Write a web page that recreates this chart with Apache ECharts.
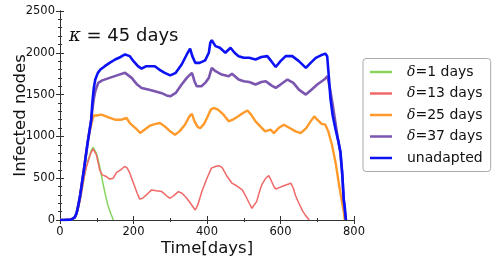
<!DOCTYPE html>
<html><head><meta charset="utf-8">
<script src="https://cdn.jsdelivr.net/npm/echarts@6/dist/echarts.min.js"></script>
<style>html,body{margin:0;padding:0;background:#fff}#c{width:498px;height:264px}</style>
</head><body><div id="c"></div>
<script>
const seriesNames = ['δ=1 days','δ=13 days','δ=25 days','δ=37 days','unadapted'];
const xTicks = [0,200,400,600,800];
const yTicks = [0,500,1000,1500,2000,2500];

const greenDays = [0,10,30,40,45,50,55,60,66,72,78,84,90,94,99,104,108,115,122,130,138,145];
const greenVals = [0,0,5,25,60,140,240,360,520,640,740,820,870,880,800,720,640,480,330,180,80,0];

const redDays = [0,10,30,40,45,50,55,60,66,72,78,84,90,94,99,104,108,115,126,135,145,154,165,176,183,190,200,210,217,225,235,249,262,277,290,300,312,322,332,345,355,363,368,375,386,400,412,423,432,441,455,468,480,496,505,515,522,527,535,545,550,560,568,575,582,587,598,609,628,635,641,650,660,669,678];
const redVals = [0,0,5,25,60,140,240,360,520,640,720,800,850,840,780,680,600,540,520,490,500,570,600,640,620,560,440,320,250,260,300,360,350,340,290,260,300,340,320,260,200,150,120,180,340,500,620,640,650,630,520,440,410,360,290,200,140,120,220,370,430,500,530,470,400,370,390,410,440,380,290,200,110,50,0];

const orangeDays = [0,10,30,40,45,50,55,60,65,70,75,80,84,88,92,100,113,130,150,167,181,190,200,210,218,230,245,260,272,285,300,313,325,340,352,359,366,375,382,392,400,410,418,430,445,459,470,485,498,510,520,532,545,558,573,582,595,609,625,641,655,670,682,692,700,712,722,730,740,751,760,766,772,775];
const orangeVals = [0,0,5,30,80,180,300,450,600,760,920,1040,1120,1200,1250,1250,1260,1230,1200,1200,1220,1160,1120,1080,1040,1080,1130,1150,1160,1120,1060,1020,1060,1140,1240,1270,1180,1110,1100,1150,1220,1320,1340,1320,1260,1180,1200,1240,1280,1310,1260,1180,1120,1060,1080,1040,1100,1140,1100,1060,1040,1100,1180,1240,1200,1150,1140,1060,900,660,400,250,100,0];

const purpleDays = [0,10,30,40,45,50,55,60,65,70,75,80,85,88,92,96,104,115,135,155,177,182,195,210,222,240,258,275,290,300,315,331,345,359,366,372,385,395,405,413,423,440,459,468,486,500,515,532,548,560,575,587,600,619,635,650,669,685,700,719,728,735,742,750,757,763,768,772,775,778];
const purpleVals = [0,0,5,30,80,180,300,450,600,760,920,1060,1200,1320,1450,1540,1640,1670,1700,1730,1760,1780,1700,1620,1580,1560,1540,1520,1490,1480,1520,1620,1700,1760,1660,1600,1600,1640,1700,1820,1780,1740,1720,1750,1680,1660,1650,1620,1650,1660,1610,1580,1620,1680,1640,1560,1500,1560,1620,1680,1720,1560,1380,1150,950,800,540,240,100,0];

const blueDays = [0,10,30,40,45,50,55,60,65,70,75,80,85,88,92,96,103,110,122,135,150,165,177,182,190,200,212,222,235,248,258,270,285,300,315,331,345,354,360,368,380,395,405,409,413,423,435,450,464,475,486,500,515,532,548,564,575,587,600,614,632,650,669,682,696,710,722,727,730,736,742,750,757,763,768,772,775,778];
const blueVals = [0,0,5,30,80,180,300,450,600,760,920,1060,1200,1400,1580,1680,1760,1800,1840,1880,1920,1950,1980,2000,1960,1900,1840,1810,1840,1840,1840,1800,1760,1730,1760,1860,1980,2050,1960,1880,1880,1910,2000,2120,2150,2080,2060,2000,2060,2000,1960,1940,1940,1920,1950,1960,1900,1830,1900,1960,1960,1900,1820,1880,1940,1970,1990,1960,1800,1450,1250,1080,950,820,560,250,150,0];

const colors = ['#86d35e','#f06868','#ff9a2a','#7b55b0','#0c12f5'];
const widths = [1.5,1.5,2.4,2.6,2.6];
const dayLists = [greenDays, redDays, orangeDays, purpleDays, blueDays];
const valLists = [greenVals, redVals, orangeVals, purpleVals, blueVals];

const chart = echarts.init(document.getElementById('c'), null, {renderer:'canvas'});
const FONT = 'DejaVu Sans';
const axisCommon = {
  type:'value', min:0,
  axisLine:{show:true, lineStyle:{color:'#333', width:1}},
  splitLine:{show:false},
  axisTick:{show:true, inside:true, length:4, lineStyle:{color:'#333'}},
  minorTick:{show:true, length:2, lineStyle:{color:'#333'}}
};
const series = seriesNames.map((n,i)=>({
  name:n, type:'line', showSymbol:false, symbol:'none', animation:false,
  lineStyle:{color:colors[i], width:widths[i]}, itemStyle:{color:colors[i]},
  data: dayLists[i].map((d,j)=>[d, valLists[i][j]]), z: 2+i
}));
chart.setOption({
  animation:false,
  grid:{left:60, right:144, top:11, bottom:44, containLabel:false, outerBoundsMode:'none'},
  xAxis:[
    Object.assign({}, axisCommon, {max:800, interval:200, position:'bottom',
      minorTick:{show:true, splitNumber:2, length:2, lineStyle:{color:'#333'}},
      axisLabel:{show:true, margin:6, color:'#111', fontFamily:FONT, fontSize:11.5, formatter:v=>xTicks.includes(v)?String(v):''},
      name:'Time[days]', nameLocation:'middle', nameGap:20, nameMoveOverlap:false,
      nameTextStyle:{fontFamily:FONT, fontSize:16.5, color:'#111', verticalAlign:'top'}}),
    Object.assign({}, axisCommon, {max:800, interval:200, position:'top',
      minorTick:{show:true, splitNumber:2, length:2, lineStyle:{color:'#333'}},
      axisLabel:{show:false}})
  ],
  yAxis:[
    Object.assign({}, axisCommon, {max:2500, interval:500, position:'left',
      minorTick:{show:true, splitNumber:5, length:2, lineStyle:{color:'#333'}},
      axisLabel:{show:true, margin:5, color:'#111', fontFamily:FONT, fontSize:11.5, formatter:v=>yTicks.includes(v)?String(v):''},
      name:'Infected nodes', nameLocation:'middle', nameGap:31, nameMoveOverlap:false,
      nameTextStyle:{fontFamily:FONT, fontSize:16.5, color:'#111'}}),
    Object.assign({}, axisCommon, {max:2500, interval:500, position:'right',
      minorTick:{show:true, splitNumber:5, length:2, lineStyle:{color:'#333'}},
      axisLabel:{show:false}})
  ],
  legend:{
    orient:'vertical', left:363, top:58.5, padding:[5,8,5,7],
    itemWidth:22, itemHeight:2.5, itemGap:4.5, icon:'rect',
    borderColor:'#aaa', borderWidth:1, borderRadius:3, backgroundColor:'#fff',
    data: seriesNames.map((n,i)=>({name:n, itemStyle:{color:colors[i]}})),
    textStyle:{fontFamily:FONT, fontSize:14, color:'#111', lineHeight:17, padding:[0,0,0,10],
      rich:{g:{fontFamily:'DejaVu Serif', fontStyle:'italic', fontSize:14, color:'#111'},
            t:{fontFamily:FONT, fontSize:14, color:'#111'}}},
    formatter: function(n){
      if(n.charAt(0)==='δ'){ return '{g|δ}{t|' + n.slice(1) + '}'; }
      return '{t|' + n + '}';
    }
  },
  graphic:[{type:'text', left:69, top:27, style:{
    rich:{k:{fontFamily:'DejaVu Serif', fontStyle:'italic', fontSize:18, fill:'#111'},
          r:{fontFamily:FONT, fontSize:18, fill:'#111'}},
    text:'{k|κ}{r| = 45 days}'}}],
  series: series
});
</script></body></html>
